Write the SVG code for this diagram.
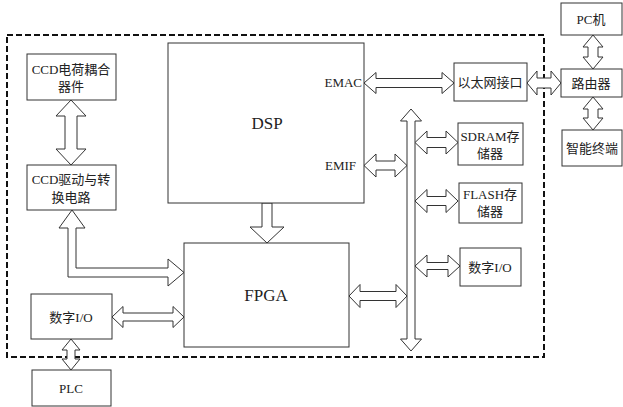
<svg xmlns="http://www.w3.org/2000/svg" width="623" height="407" viewBox="0 0 623 407">
<style>
.box{fill:#fff;stroke:#333;stroke-width:1}
.arr{fill:#fff;stroke:#333;stroke-width:1;stroke-linejoin:miter}
.t{font-family:"Liberation Serif","Noto Sans CJK SC",serif;font-size:13px;fill:#222;text-anchor:middle}
.big{font-size:17px}
.frame{fill:none;stroke:#111;stroke-width:2;stroke-dasharray:6 3}
</style>
<rect width="623" height="407" fill="#fff"/>
<rect class="frame" x="7" y="35" width="537" height="322"/>

<g id="connectors">
<!-- CCD <-> CCD driver -->
<polygon class="arr" points="71,100 86,116 77,116 77,149 86,149 71,165 56,149 65,149 65,116 56,116"/>
<!-- CCD driver -> FPGA (L-shaped) -->
<polygon class="arr" points="72,210 85,228 76,228 76,268 168,268 168,259 184,272.5 168,286 168,277 68,277 68,228 59,228"/>
<!-- DSP -> FPGA -->
<polygon class="arr" points="262,203 272,203 272,227 284,227 267,243 250,227 262,227"/>
<!-- left IO <-> FPGA -->
<polygon class="arr" points="112,317 123,306.5 123,313 173,313 173,306.5 184,317 173,327.5 173,321 123,321 123,327.5"/>
<!-- left IO <-> PLC -->
<polygon class="arr" points="71,339 80,350 75,350 75,359 80,359 71,370 62,359 67,359 67,350 62,350"/>
<!-- EMAC <-> Ethernet -->
<polygon class="arr" points="364,83 376,72.5 376,78.5 442,78.5 442,72.5 454,83 442,93.5 442,87.5 376,87.5 376,93.5"/>
<!-- Ethernet <-> Router -->
<polygon class="arr" points="527,83 537,71 537,78 551,78 551,71 561,83 551,95 551,88 537,88 537,95"/>
<!-- PC <-> Router -->
<polygon class="arr" points="593,35 603,47 598,47 598,57 603,57 593,69 583,57 588,57 588,47 583,47"/>
<!-- Router <-> terminal -->
<polygon class="arr" points="593,97 603,109 598,109 598,118 603,118 593,130 583,118 588,118 588,109 583,109"/>
<!-- EMIF <-> bus -->
<polygon class="arr" points="364,165.5 376,154 376,161 395,161 395,154 407,165.5 395,177 395,170 376,170 376,177"/>
<!-- bus -->
<polygon class="arr" points="411,109 421.5,121 415,121 415,339 421.5,339 411,351 400.5,339 407,339 407,121 400.5,121"/>
<!-- bus <-> SDRAM -->
<polygon class="arr" points="415,142.5 427,131 427,137.5 446,137.5 446,131 458,142.5 446,154 446,147.5 427,147.5 427,154"/>
<!-- bus <-> FLASH -->
<polygon class="arr" points="415,201 427,189.5 427,196.5 446,196.5 446,189.5 458,201 446,212.5 446,205.5 427,205.5 427,212.5"/>
<!-- bus <-> right IO -->
<polygon class="arr" points="415,266 427,255 427,262.5 448,262.5 448,255 460,266 448,277 448,269.5 427,269.5 427,277"/>
<!-- FPGA <-> bus -->
<polygon class="arr" points="349,296 360,284.5 360,291.5 396,291.5 396,284.5 407,296 396,307.5 396,300.5 360,300.5 360,307.5"/>
</g>

<g id="ccd">
<rect class="box" x="27" y="54" width="89" height="46"/>
<text class="t" x="71" y="74">CCD电荷耦合</text>
<text class="t" x="71" y="91">器件</text>
</g>
<g id="ccd-driver">
<rect class="box" x="27" y="165" width="89" height="45"/>
<text class="t" x="71" y="184">CCD驱动与转</text>
<text class="t" x="71" y="202">换电路</text>
</g>
<g id="dsp">
<rect class="box" x="168" y="43" width="196" height="160"/>
<text class="t big" x="267" y="129">DSP</text>
<text class="t" x="362" y="87" style="text-anchor:end">EMAC</text>
<text class="t" x="356" y="170" style="text-anchor:end">EMIF</text>
</g>
<g id="fpga">
<rect class="box" x="184" y="243" width="165" height="104"/>
<text class="t big" x="266" y="301">FPGA</text>
</g>
<g id="io-left">
<rect class="box" x="31" y="294" width="81" height="45"/>
<text class="t" x="71" y="322">数字I/O</text>
</g>
<g id="plc">
<rect class="box" x="32" y="370" width="79" height="36"/>
<text class="t" x="71" y="393">PLC</text>
</g>
<g id="ethernet">
<rect class="box" x="454" y="63" width="73" height="38"/>
<text class="t" x="490" y="87">以太网接口</text>
</g>
<g id="sdram">
<rect class="box" x="458" y="123" width="65" height="42"/>
<text class="t" x="490" y="141">SDRAM存</text>
<text class="t" x="490" y="158">储器</text>
</g>
<g id="flash">
<rect class="box" x="459" y="183" width="63" height="40"/>
<text class="t" x="490" y="199">FLASH存</text>
<text class="t" x="490" y="216">储器</text>
</g>
<g id="io-right">
<rect class="box" x="460" y="248" width="61" height="38"/>
<text class="t" x="490" y="272">数字I/O</text>
</g>
<g id="pc">
<rect class="box" x="561" y="3" width="61" height="32"/>
<text class="t" x="591" y="24">PC机</text>
</g>
<g id="router">
<rect class="box" x="561" y="69" width="61" height="28"/>
<text class="t" x="591" y="88">路由器</text>
</g>
<g id="terminal">
<rect class="box" x="562" y="130" width="60" height="36"/>
<text class="t" x="592" y="153">智能终端</text>
</g>
</svg>
